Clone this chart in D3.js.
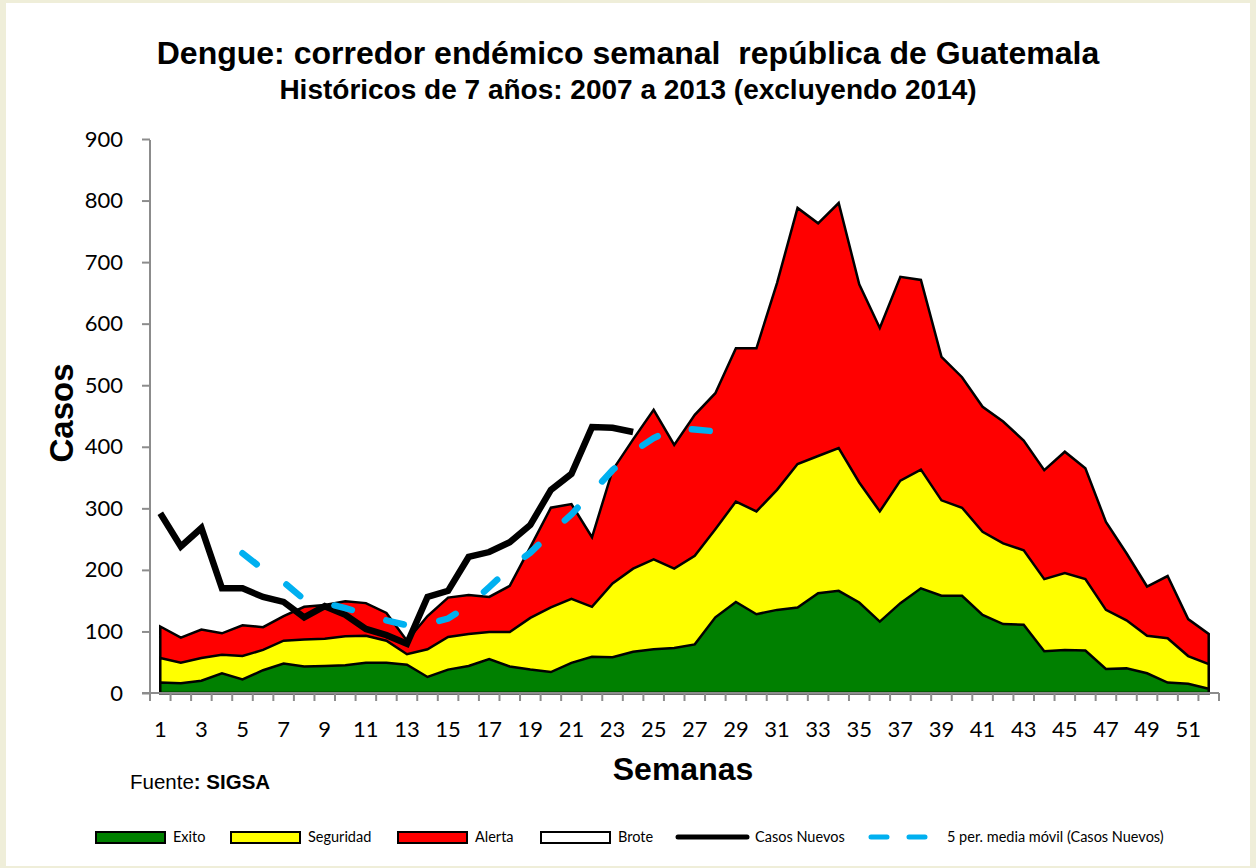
<!DOCTYPE html>
<html>
<head>
<meta charset="utf-8">
<script src="https://cdn.jsdelivr.net/npm/d3@7"></script>
<style>
  body { margin: 0; background: #efeed9; }
  svg { display: block; }
</style>
</head>
<body>
<div id="chart-area"></div>
<script>
/*
*    corredor endémico - dengue Guatemala
*/

// semanas 1..52
var weeks = d3.range(1, 53);
var weekLabels = d3.range(1, 53, 2);

// borde superior de cada zona (valores acumulados)
var exito = [17, 16, 20, 32, 22, 37, 48, 43, 44, 45, 49, 49, 46, 26, 38, 44, 55, 43, 38, 34,
    49, 59, 58, 67, 71, 73, 79, 123, 148, 128, 135, 139, 162, 166, 147, 116, 146, 170, 158, 158,
    127, 112, 111, 68, 70, 69, 39, 40, 32, 17, 15, 7];
var seguridad = [57, 49, 57, 62, 60, 70, 85, 87, 88, 92, 93, 85, 63, 71, 91, 96, 99, 99, 122, 139,
    153, 140, 178, 202, 217, 202, 223, 266, 311, 295, 330, 372, 385, 398, 342, 295, 345, 363, 313, 301,
    262, 243, 232, 185, 195, 185, 135, 118, 93, 89, 60, 47];
var alerta = [108, 90, 103, 97, 110, 107, 125, 140, 143, 149, 146, 130, 85, 125, 155, 159, 156, 174, 237, 301,
    307, 253, 362, 412, 460, 403, 452, 487, 560, 560, 666, 788, 763, 796, 664, 593, 676, 671, 546, 513,
    465, 441, 410, 362, 392, 365, 278, 227, 173, 190, 120, 96];

// casos nuevos 2014 (semanas 1..24)
var casosWeeks = d3.range(1, 25);
var casosNuevos = [292, 238, 268, 170, 170, 156, 148, 123, 141, 127, 104, 94, 80, 156, 166, 221, 229, 245, 273, 330,
    356, 432, 431, 424];

// media móvil 5 periodos (semanas 5..28)
var mediaWeeks = d3.range(5, 29);
var mediaMovil = [227, 201, 180, 152, 146, 138, 128, 118, 110, 112, 121, 142, 172, 203, 228, 260, 290, 326, 362, 392,
    414, 430, 428, 425];

var yTicks = d3.range(0, 901, 100);

var legendItems = [
    { label: "Exito", type: "rect", color: "#008000" },
    { label: "Seguridad", type: "rect", color: "#ffff00" },
    { label: "Alerta", type: "rect", color: "#ff0000" },
    { label: "Brote", type: "rect", color: "#ffffff" },
    { label: "Casos Nuevos", type: "line", color: "#000000" },
    { label: "5 per. media móvil (Casos Nuevos)", type: "dash", color: "#00b0f0" }
];

var W = 1256, H = 868;
var margin = { left: 150, right: 37, top: 139, bottom: 175 };

var svg = d3.select("#chart-area").append("svg")
    .attr("width", W)
    .attr("height", H);

// fondo
svg.append("rect")
    .attr("x", 0).attr("y", 0)
    .attr("width", W).attr("height", H)
    .attr("fill", "#efeed9");
svg.append("rect")
    .attr("x", 6).attr("y", 3)
    .attr("width", 1244).attr("height", 863)
    .attr("fill", "#ffffff");

// Scales
var x = d3.scaleBand()
    .domain(weeks)
    .range([margin.left, W - margin.right])
    .paddingInner(0).paddingOuter(0);
var xc = function(d) { return x(d) + x.bandwidth() / 2; };
var y = d3.scaleLinear()
    .domain([0, 900])
    .range([H - margin.bottom, margin.top]);

// areas
var zones = [
    { values: alerta, color: "#ff0000" },
    { values: seguridad, color: "#ffff00" },
    { values: exito, color: "#008000" }
];
var area = d3.area()
    .x(function(d) { return xc(d.w); })
    .y0(y(0))
    .y1(function(d) { return y(d.v); });

zones.forEach(function(z) {
    var pts = weeks.map(function(w, i) { return { w: w, v: z.values[i] }; });
    svg.append("path")
        .attr("d", area(pts))
        .attr("fill", z.color)
        .attr("stroke", "#000")
        .attr("stroke-width", 2.5)
        .attr("stroke-linejoin", "miter");
});

// axes
var axisColor = "#8c8c8c";
var yAxisCall = d3.axisLeft(y)
    .tickValues(yTicks)
    .tickSize(8)
    .tickPadding(19)
    .tickFormat(d3.format("d"));
var yAxis = svg.append("g")
    .attr("transform", "translate(" + margin.left + ",0)")
    .call(yAxisCall);
yAxis.select(".domain")
    .attr("d", "M0," + (y(900) + 1) + "H0V" + (y(0) + 8))
    .attr("stroke", axisColor).attr("stroke-width", 2);
yAxis.selectAll(".tick line").attr("stroke", axisColor).attr("stroke-width", 2);
yAxis.selectAll(".tick text")
    .attr("font-family", "Lato, 'Open Sans', sans-serif")
    .attr("font-size", "22px")
    .attr("fill", "#000");

var xAxis = svg.append("g");
xAxis.append("line")
    .attr("x1", margin.left - 8).attr("x2", W - margin.right)
    .attr("y1", y(0)).attr("y2", y(0))
    .attr("stroke", axisColor).attr("stroke-width", 2);
xAxis.selectAll(".xtick")
    .data(weeks.concat(["end"]))
    .enter().append("line")
    .attr("class", "xtick")
    .attr("x1", function(d) { return d === "end" ? x.range()[1] : x(d); })
    .attr("x2", function(d) { return d === "end" ? x.range()[1] : x(d); })
    .attr("y1", y(0)).attr("y2", y(0) + 8)
    .attr("stroke", axisColor).attr("stroke-width", 2);
xAxis.selectAll(".xlabel")
    .data(weekLabels)
    .enter().append("text")
    .attr("class", "xlabel")
    .attr("x", xc)
    .attr("y", 737)
    .attr("text-anchor", "middle")
    .attr("font-family", "Lato, 'Open Sans', sans-serif")
    .attr("font-size", "22px")
    .text(function(d) { return d; });

// casos nuevos
var line = d3.line()
    .x(function(d) { return xc(d.w); })
    .y(function(d) { return y(d.v); });
svg.append("path")
    .attr("d", line(casosWeeks.map(function(w, i) { return { w: w, v: casosNuevos[i] }; })))
    .attr("fill", "none")
    .attr("stroke", "#000")
    .attr("stroke-width", 6.5)
    .attr("stroke-linejoin", "miter");

// media movil
svg.append("path")
    .attr("d", line(mediaWeeks.map(function(w, i) { return { w: w, v: mediaMovil[i] }; })))
    .attr("fill", "none")
    .attr("stroke", "#00b0f0")
    .attr("stroke-width", 6.5)
    .attr("stroke-linecap", "round")
    .attr("stroke-dasharray", "18,36");

// titles
svg.append("text")
    .attr("x", 628).attr("y", 64)
    .attr("text-anchor", "middle")
    .attr("font-family", "'Liberation Sans', Arial, sans-serif")
    .attr("font-weight", "bold")
    .attr("font-size", "32px")
    .attr("xml:space", "preserve")
    .text("Dengue: corredor endémico semanal  república de Guatemala");
svg.append("text")
    .attr("x", 628).attr("y", 99)
    .attr("text-anchor", "middle")
    .attr("font-family", "'Liberation Sans', Arial, sans-serif")
    .attr("font-weight", "bold")
    .attr("font-size", "28px")
    .text("Históricos de 7 años: 2007 a 2013 (excluyendo 2014)");

// axis labels
svg.append("text")
    .attr("transform", "translate(73,413) rotate(-90)")
    .attr("text-anchor", "middle")
    .attr("font-family", "'Liberation Sans', Arial, sans-serif")
    .attr("font-weight", "bold")
    .attr("font-size", "33px")
    .text("Casos");
svg.append("text")
    .attr("x", 683).attr("y", 780)
    .attr("text-anchor", "middle")
    .attr("font-family", "'Liberation Sans', Arial, sans-serif")
    .attr("font-weight", "bold")
    .attr("font-size", "32px")
    .text("Semanas");

var fuente = svg.append("text")
    .attr("x", 130).attr("y", 789)
    .attr("font-family", "'Liberation Sans', Arial, sans-serif")
    .attr("font-size", "20.5px");
fuente.append("tspan").text("Fuente");
fuente.append("tspan").attr("font-weight", "bold").text(": SIGSA");

// legend
var legendX = [96, 231, 398, 541, 678, 869];
var legY = 837;
var leg = svg.selectAll(".legend")
    .data(legendItems)
    .enter().append("g")
    .attr("class", "legend")
    .attr("transform", function(d, i) { return "translate(" + legendX[i] + "," + legY + ")"; });
leg.filter(function(d) { return d.type === "rect"; })
    .append("rect")
    .attr("x", 0).attr("y", -5)
    .attr("width", 69).attr("height", 11)
    .attr("fill", function(d) { return d.color; })
    .attr("stroke", "#000")
    .attr("stroke-width", 2);
leg.filter(function(d) { return d.type === "line"; })
    .append("line")
    .attr("x1", 0).attr("x2", 69)
    .attr("stroke", "#000")
    .attr("stroke-width", 5)
    .attr("stroke-linecap", "round");
leg.filter(function(d) { return d.type === "dash"; })
    .append("line")
    .attr("x1", 2).attr("x2", 56)
    .attr("stroke", "#00b0f0")
    .attr("stroke-width", 5)
    .attr("stroke-linecap", "round")
    .attr("stroke-dasharray", "16,22");
leg.append("text")
    .attr("x", function(d) { return d.type === "dash" ? 78 : 77; })
    .attr("y", 5)
    .attr("font-family", "Lato, 'Open Sans', sans-serif")
    .attr("font-size", "14.5px")
    .text(function(d) { return d.label; });
</script>
</body>
</html>
